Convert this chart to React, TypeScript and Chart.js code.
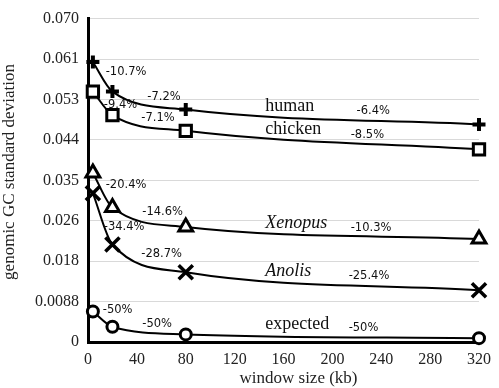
import React, { useEffect, useRef } from "react";
import { Chart, registerables } from "chart.js";

Chart.register(...registerables);

const WINDOW_SIZES = [4, 20, 80, 320];
const HUMAN = [0.0606, 0.0542, 0.0503, 0.0471];
const CHICKEN = [0.0542, 0.0491, 0.0457, 0.0417];
const XENOPUS = [0.0366, 0.0291, 0.0249, 0.0223];
const ANOLIS = [0.0322, 0.0211, 0.0151, 0.0112];
const EXPECTED = [0.0066, 0.0033, 0.00165, 0.00083];

const X_TICKS = [0, 40, 80, 120, 160, 200, 240, 280, 320];
const Y_TICKS = [0, 0.00875, 0.0175, 0.02625, 0.035, 0.04375, 0.0525, 0.06125, 0.07];
const Y_TICK_LABELS = ["0", "0.0088", "0.018", "0.026", "0.035", "0.044", "0.053", "0.061", "0.070"];

const PCT_TEXT = [
  "-10.7%", "-9.4%", "-7.2%", "-7.1%", "-6.4%", "-8.5%",
  "-20.4%", "-14.6%", "-10.3%", "-34.4%", "-28.7%", "-25.4%",
  "-50%", "-50%", "-50%",
];
const PCT_X = [14.5, 12.9, 48.5, 43.6, 219.8, 215, 14.5, 44.4, 215, 12.9, 43.6, 213.3, 12.1, 44.4, 213.3];
const PCT_Y = [0.0585, 0.0514, 0.0531, 0.0485, 0.0499, 0.0449, 0.0339, 0.0282, 0.0247, 0.0249, 0.0190, 0.0142, 0.0069, 0.0040, 0.0031];

const NAME_TEXT = ["human", "chicken", "Xenopus", "Anolis", "expected"];
const NAME_ITALIC = [false, false, true, true, false];
const NAME_X = [145, 145, 145, 145, 145];
const NAME_Y = [0.0511, 0.0461, 0.0256, 0.0154, 0.0039];

const SERIF = '"Liberation Serif", "Times New Roman", serif';
const SANS = '"DejaVu Sans", sans-serif';

const annotationPlugin = {
  id: "annotations",
  afterDatasetsDraw(chart: any) {
    const { ctx, scales, chartArea } = chart;
    const xs = scales.x;
    const ys = scales.y;
    ctx.save();
    ctx.fillStyle = "#111";
    ctx.textBaseline = "middle";
    ctx.textAlign = "left";
    ctx.font = "11.5px " + SANS;
    PCT_TEXT.forEach((t, i) => {
      ctx.fillText(t, xs.getPixelForValue(PCT_X[i]), ys.getPixelForValue(PCT_Y[i]));
    });
    NAME_TEXT.forEach((t, i) => {
      ctx.font = (NAME_ITALIC[i] ? "italic " : "") + "18px " + SERIF;
      ctx.fillText(t, xs.getPixelForValue(NAME_X[i]), ys.getPixelForValue(NAME_Y[i]));
    });
    // axis titles
    ctx.fillStyle = "#222";
    ctx.font = "17px " + SERIF;
    ctx.textAlign = "center";
    ctx.fillText("window size (kb)", (chartArea.left + chartArea.right) / 2 + 15, 379);
    ctx.translate(10, 172);
    ctx.rotate(-Math.PI / 2);
    ctx.fillText("genomic GC standard deviation", 0, 0);
    ctx.restore();
  },
};

function makeDataset(label: string, data: number[], style: string, radius: number, bw: number) {
  return {
    label,
    data: WINDOW_SIZES.map((x, i) => ({ x, y: data[i] })),
    borderColor: "#000",
    borderWidth: 2,
    pointStyle: style,
    pointRadius: radius,
    pointBorderWidth: bw,
    pointBorderColor: "#000",
    pointBackgroundColor: "#fff",
    backgroundColor: "#fff",
    cubicInterpolationMode: "monotone",
    fill: false,
    clip: false,
  };
}

export default function App() {
  const ref = useRef<HTMLCanvasElement>(null);
  useEffect(() => {
    if (!ref.current) return;
    const chart = new Chart(ref.current, {
      type: "line",
      data: {
        datasets: [
          makeDataset("human", HUMAN, "cross", 6.5, 4),
          makeDataset("chicken", CHICKEN, "rect", 8, 3),
          makeDataset("Xenopus", XENOPUS, "triangle", 8, 3),
          makeDataset("Anolis", ANOLIS, "crossRot", 10, 3.5),
          makeDataset("expected", EXPECTED, "circle", 5.5, 3),
        ] as any,
      },
      options: {
        responsive: false,
        animation: false,
        devicePixelRatio: 1,
        layout: { padding: { left: 0, right: 15, top: 7, bottom: 0 } },
        plugins: { legend: { display: false }, tooltip: { enabled: false } },
        scales: {
          x: {
            type: "linear",
            min: 0,
            max: 320,
            afterFit: (s: any) => { s.height = 46; },
            afterBuildTicks: (s: any) => { s.ticks = X_TICKS.map((v) => ({ value: v })); },
            grid: { display: false, drawTicks: false },
            border: { display: true, color: "#000", width: 3 },
            ticks: {
              padding: 8,
              color: "#222",
              font: { family: SERIF, size: 16 },
              maxRotation: 0,
            },
          },
          y: {
            type: "linear",
            min: 0,
            max: 0.07,
            afterFit: (s: any) => { s.width = 88; },
            afterBuildTicks: (s: any) => { s.ticks = Y_TICKS.map((v) => ({ value: v })); },
            grid: { color: "#d9d9d9", lineWidth: 1, drawTicks: false },
            border: { display: true, color: "#000", width: 3 },
            ticks: {
              padding: 9,
              color: "#222",
              font: { family: SERIF, size: 16 },
              callback: (_v: any, i: number) => Y_TICK_LABELS[i],
            },
          },
        },
      },
      plugins: [annotationPlugin],
    });
    return () => chart.destroy();
  }, []);
  return (
    <div style={{ position: "fixed", left: 0, top: 0, width: 499, height: 388, background: "#fff" }}>
      <canvas ref={ref} width={499} height={388} />
    </div>
  );
}
